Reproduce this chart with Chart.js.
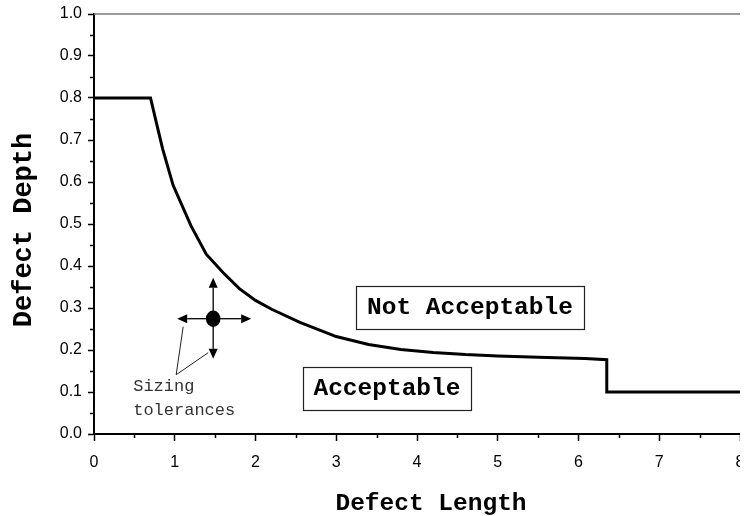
<!DOCTYPE html>
<html>
<head>
<meta charset="utf-8">
<title>Defect acceptance curve</title>
<script src="https://cdn.jsdelivr.net/npm/chart.js@4/dist/chart.umd.min.js"></script>
<style>
  html, body { margin: 0; padding: 0; background: #fff; }
  canvas { display: block; }
</style>
</head>
<body>
<canvas id="chart" width="740" height="516" style="width:740px;height:516px"></canvas>
<script>
// Acceptance limit: defect depth allowed for a given defect length
const defectLength = [0, 0.7, 0.77, 0.85, 0.98, 1.2, 1.39, 1.6, 1.8, 2.0, 2.2, 2.55, 3.0, 3.4, 3.8, 4.2, 4.6, 5.0, 5.5, 6.08, 6.35, 6.35, 8];
const defectDepth  = [0.8, 0.8, 0.743, 0.679, 0.592, 0.496, 0.428, 0.384, 0.346, 0.318, 0.297, 0.266, 0.232, 0.213, 0.201, 0.194, 0.189, 0.186, 0.183, 0.180, 0.177, 0.1, 0.1];

// Axis ticks
const lengthTicks = [0, 1, 2, 3, 4, 5, 6, 7, 8];
const lengthMinorTicks = [0.5, 1.5, 2.5, 3.5, 4.5, 5.5, 6.5, 7.5];
const depthTicks = [0.0, 0.1, 0.2, 0.3, 0.4, 0.5, 0.6, 0.7, 0.8, 0.9, 1.0];
const depthMinorTicks = [0.05, 0.15, 0.25, 0.35, 0.45, 0.55, 0.65, 0.75, 0.85, 0.95];

// Text labels
const xTitle = 'Defect Length';
const yTitle = 'Defect Depth';
const regionAbove = 'Not Acceptable';
const regionBelow = 'Acceptable';
const toleranceNote = ['Sizing', 'tolerances'];

const MONO = '"Liberation Mono", "Courier New", monospace';
const SANS = '"Liberation Sans", Arial, sans-serif';

function arrow(ctx, x0, y0, x1, y1, head, half) {
  const ang = Math.atan2(y1 - y0, x1 - x0);
  const bx = x1 - head * Math.cos(ang), by = y1 - head * Math.sin(ang);
  ctx.beginPath();
  ctx.moveTo(x0, y0);
  ctx.lineTo(bx, by);
  ctx.stroke();
  ctx.beginPath();
  ctx.moveTo(x1, y1);
  ctx.lineTo(bx + half * Math.sin(ang), by - half * Math.cos(ang));
  ctx.lineTo(bx - half * Math.sin(ang), by + half * Math.cos(ang));
  ctx.closePath();
  ctx.fill();
}

function labelBox(ctx, cx, cy, w, h, text) {
  ctx.fillStyle = '#fff';
  ctx.fillRect(cx - w / 2, cy - h / 2, w, h);
  ctx.strokeStyle = '#222';
  ctx.lineWidth = 1.2;
  ctx.strokeRect(Math.round(cx - w / 2) + 0.5, Math.round(cy - h / 2) + 0.5, w, h);
  ctx.fillStyle = '#000';
  ctx.font = 'bold 24.5px ' + MONO;
  ctx.textAlign = 'center';
  ctx.textBaseline = 'alphabetic';
  ctx.fillText(text, cx, cy + 7);
}

const decorations = {
  id: 'decorations',
  afterDraw(chart) {
    const { ctx, chartArea: a, scales: { x, y } } = chart;
    ctx.save();

    // thin frame line along the top of the plot
    const yTop = y.getPixelForValue(1.0);
    ctx.strokeStyle = '#7a7a7a';
    ctx.lineWidth = 1.3;
    ctx.beginPath();
    ctx.moveTo(a.left, yTop);
    ctx.lineTo(a.right, yTop);
    ctx.stroke();

    // minor tick marks
    ctx.strokeStyle = '#000';
    ctx.lineWidth = 1.5;
    ctx.beginPath();
    lengthMinorTicks.forEach(v => {
      const px = Math.round(x.getPixelForValue(v)) + 0.5;
      ctx.moveTo(px, a.bottom);
      ctx.lineTo(px, a.bottom + 4);
    });
    depthMinorTicks.forEach(v => {
      const py = Math.round(y.getPixelForValue(v)) + 0.5;
      ctx.moveTo(a.left, py);
      ctx.lineTo(a.left - 4, py);
    });
    ctx.stroke();

    // region labels
    labelBox(ctx, x.getPixelForValue(4.656), y.getPixelForValue(0.302), 228, 43, regionAbove);
    labelBox(ctx, x.getPixelForValue(3.628), y.getPixelForValue(0.1095), 168, 43, regionBelow);

    // sizing tolerance marker
    const mx = x.getPixelForValue(1.476), my = y.getPixelForValue(0.2745);
    ctx.strokeStyle = '#000';
    ctx.fillStyle = '#000';
    ctx.lineWidth = 1.3;
    arrow(ctx, mx, my, mx, my - 41, 10, 4.5);
    arrow(ctx, mx, my, mx, my + 40, 10, 4.5);
    arrow(ctx, mx, my, mx - 36, my, 10, 4.5);
    arrow(ctx, mx, my, mx + 38, my, 10, 4.5);
    ctx.beginPath();
    ctx.ellipse(mx, my, 7.3, 8.2, 0, 0, Math.PI * 2);
    ctx.fill();

    // leader lines to the note
    ctx.lineWidth = 1;
    ctx.strokeStyle = '#222';
    ctx.beginPath();
    ctx.moveTo(mx - 37, my + 56);
    ctx.lineTo(mx - 30, my + 8);
    ctx.moveTo(mx - 37, my + 56);
    ctx.lineTo(mx - 5, my + 34);
    ctx.stroke();

    ctx.fillStyle = '#333';
    ctx.font = '17px ' + MONO;
    ctx.textAlign = 'left';
    ctx.textBaseline = 'alphabetic';
    ctx.fillText(toleranceNote[0], mx - 80, my + 72);
    ctx.fillText(toleranceNote[1], mx - 80, my + 96);

    // axis titles
    ctx.fillStyle = '#000';
    ctx.font = 'bold 24.5px ' + MONO;
    ctx.textAlign = 'center';
    ctx.fillText(xTitle, 431, 510);

    ctx.save();
    ctx.translate(31, 230);
    ctx.rotate(-Math.PI / 2);
    ctx.font = 'bold 27px ' + MONO;
    ctx.textAlign = 'center';
    ctx.textBaseline = 'alphabetic';
    ctx.fillText(yTitle, 0, 0);
    ctx.restore();

    ctx.restore();
  }
};

const points = defectLength.map((l, i) => ({ x: l, y: defectDepth[i] }));

new Chart(document.getElementById('chart'), {
  type: 'line',
  data: {
    datasets: [{
      data: points,
      borderColor: '#000',
      borderWidth: 3,
      pointRadius: 0,
      tension: 0,
      fill: false
    }]
  },
  options: {
    responsive: false,
    animation: false,
    devicePixelRatio: 1,
    layout: { padding: { top: 14, right: 0, bottom: 0, left: 0 }, autoPadding: false },
    plugins: { legend: { display: false }, tooltip: { enabled: false } },
    scales: {
      x: {
        type: 'linear',
        min: 0,
        max: 8,
        afterBuildTicks: s => { s.ticks = lengthTicks.map(v => ({ value: v })); },
        afterFit: s => { s.height = 82; s.paddingLeft = 0; s.paddingRight = 0; },
        ticks: {
          callback: v => String(v),
          color: '#000',
          font: { family: SANS, size: 16 },
          padding: 12,
          maxRotation: 0,
          autoSkip: false
        },
        grid: { drawOnChartArea: false, drawTicks: true, tickLength: 7, tickColor: '#000', tickWidth: 1.5 },
        border: { display: true, color: '#000', width: 2 }
      },
      y: {
        type: 'linear',
        min: 0,
        max: 1,
        afterBuildTicks: s => { s.ticks = depthTicks.map(v => ({ value: v })); },
        afterFit: s => { s.width = 94; s.paddingTop = 0; s.paddingBottom = 0; },
        ticks: {
          callback: v => Number(v).toFixed(1),
          color: '#000',
          font: { family: SANS, size: 16 },
          padding: 6,
          autoSkip: false
        },
        grid: { drawOnChartArea: false, drawTicks: true, tickLength: 6, tickColor: '#000', tickWidth: 1.5 },
        border: { display: true, color: '#000', width: 2 }
      }
    }
  },
  plugins: [decorations]
});
</script>
</body>
</html>
